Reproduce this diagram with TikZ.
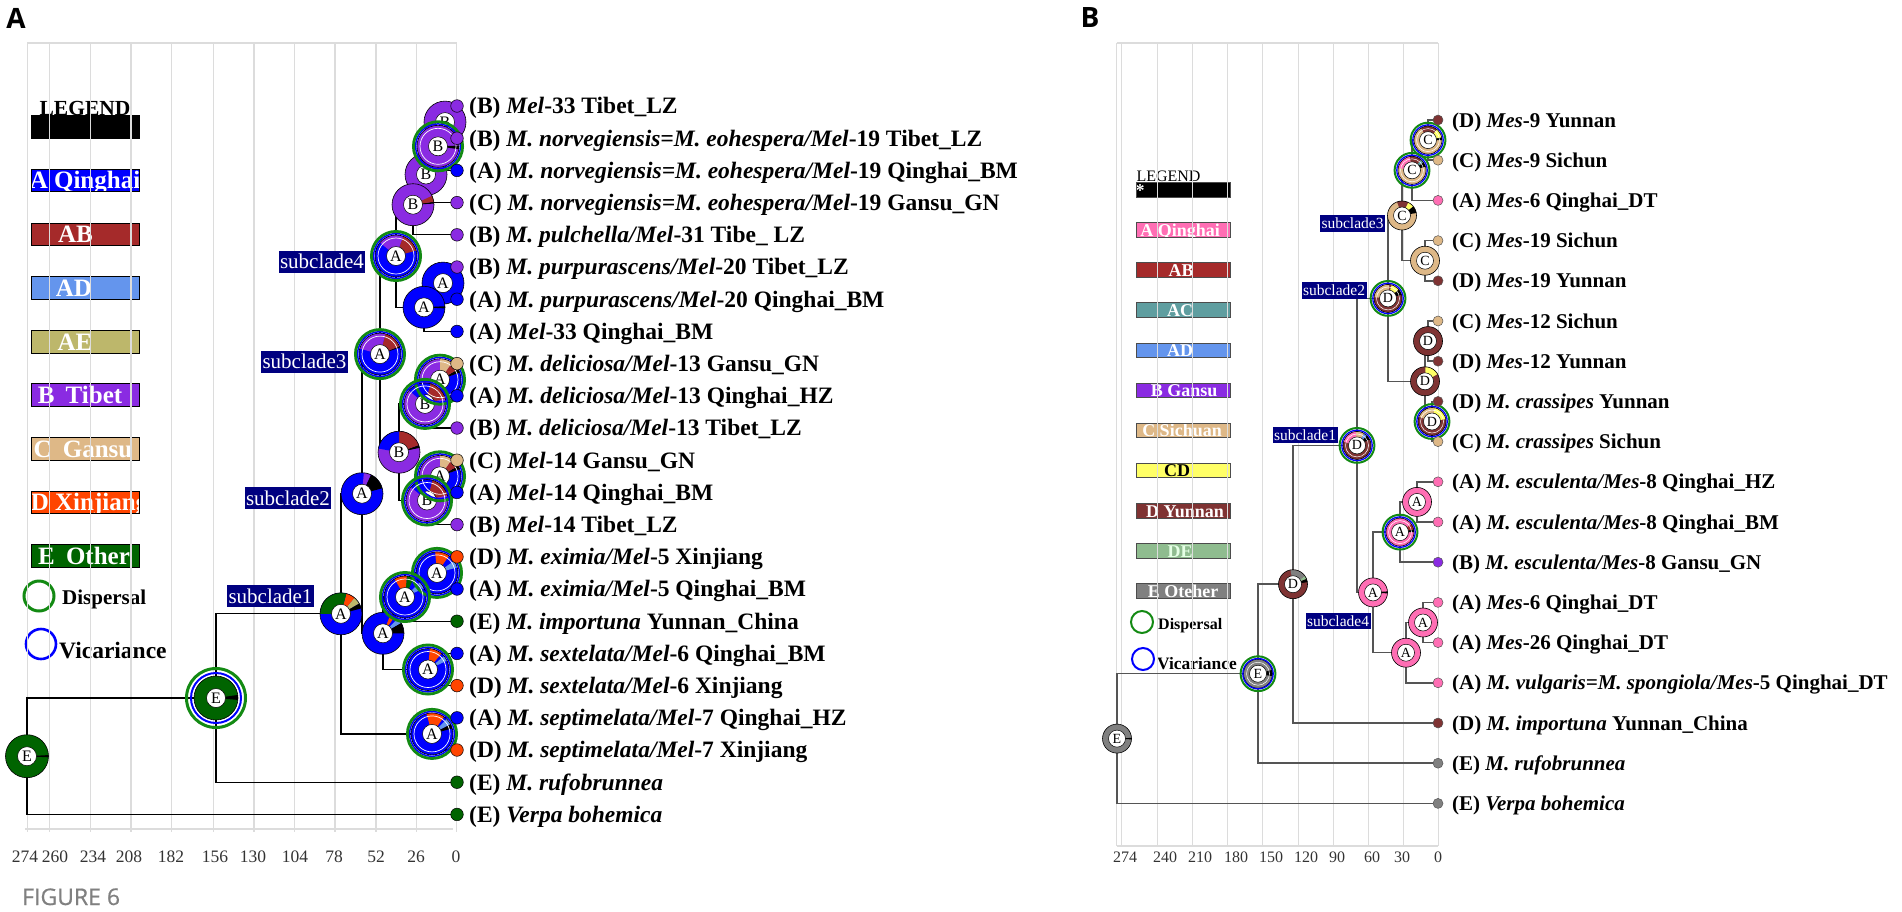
\documentclass[tikz,border=0pt]{standalone}
\usepackage{fontspec}
\setmainfont{Liberation Serif}
\newfontfamily\osans{Open Sans}
\newfontfamily\osansfig[FakeBold=0.6]{Open Sans}
\definecolor{qA}{HTML}{0000FF}
\definecolor{qAB}{HTML}{A52A2A}
\definecolor{qAD}{HTML}{6495ED}
\definecolor{qAE}{HTML}{BDB76B}
\definecolor{qB}{HTML}{8A2BE2}
\definecolor{qC}{HTML}{DEB887}
\definecolor{qD}{HTML}{FF4500}
\definecolor{qE}{HTML}{006400}
\definecolor{pA}{HTML}{FF6EB4}
\definecolor{pAC}{HTML}{5F9EA0}
\definecolor{pCD}{HTML}{FFFF66}
\definecolor{pD}{HTML}{7F3333}
\definecolor{pDE}{HTML}{8FBC8F}
\definecolor{pE}{HTML}{808080}
\definecolor{navyc}{HTML}{000080}
\definecolor{gridc}{HTML}{DCDCDC}
\definecolor{treeg}{HTML}{555555}
\definecolor{ringg}{HTML}{138A13}
\definecolor{tickc}{HTML}{333333}
\definecolor{figc}{HTML}{808080}
\newcommand\fsz[1]{\fontsize{#1}{#1}\selectfont}
\tikzset{
  treeA/.style={line width=1.3, draw=black},
  treeB/.style={line width=1.5, draw=treeg},
  gridl/.style={line width=1.1, draw=gridc},
  rgA/.style={draw=ringg, line width=2.8},
  rbA/.style={draw=blue, line width=1.5},
  rgB/.style={draw=ringg, line width=2},
  rbB/.style={draw=blue, line width=1.3},
  tipA/.style={anchor=base west, inner sep=0, xshift=12, yshift=-7.8, font=\fsz{23.5}\bfseries},
  tipB/.style={anchor=base west, inner sep=0, xshift=14, yshift=-7, font=\fsz{21}\bfseries},
  letA/.style={circle, fill=white, draw=black, line width=0.5, minimum size=19, inner sep=0, font=\fsz{16}},
  letB/.style={circle, fill=white, draw=black, line width=0.5, minimum size=17, inner sep=0, font=\fsz{14}},
  subA/.style={fill=navyc, text=white, inner xsep=1.5, inner ysep=0, minimum height=22, font=\fsz{21}},
  subB/.style={fill=navyc, text=white, inner xsep=1.5, inner ysep=0, minimum height=16.5, font=\fsz{15.5}},
  legboxA/.style={draw=black, line width=0.8, minimum width=108, minimum height=22.5, inner sep=0},
  legboxB/.style={draw=black!70, line width=0.8, minimum width=94, minimum height=14.5, inner sep=0},
  legtxtA/.style={anchor=base, inner sep=0, text=white, font=\fsz{25}\bfseries, yshift=-8.3},
  legtxtB/.style={anchor=base, inner sep=0, text=white, font=\fsz{18}\bfseries, yshift=-6},
  tickA/.style={font=\fsz{17.5}, text=tickc, inner sep=0},
  tickB/.style={font=\fsz{16}, text=tickc, inner sep=0},
}
% donut: name, R, segments (color/from/to), letter style, letter
\newcommand\donut[5]{%
  \foreach \c/\a/\b in {#3}{\fill[\c] (#1) -- ++(-\a:#2) arc[start angle=-\a,end angle=-\b,radius=#2] -- cycle;}
  \draw[line width=0.6] (#1) circle[radius=#2];
  \node[#4] (#1-l) at (#1) {#5};}
\newcommand\ringA[1]{\draw[white,line width=0.7] (#1) circle[radius=18];
  \draw[rbA] (#1) circle[radius=22.4]; \draw[rgA] (#1) circle[radius=24.6];}
\newcommand\ringB[1]{\draw[white,line width=0.5] (#1) circle[radius=11.5];
  \draw[rbB] (#1) circle[radius=15.2]; \draw[rgB] (#1) circle[radius=17.4];}
\newcommand\legA[5]{\node[legboxA, fill=#3, path picture={\node[legtxtA, xshift=#4] at (path picture bounding box.center) {#5};}] (#1) at (85,#2) {};}
\newcommand\legB[6]{\node[legboxB, fill=#3, path picture={\node[legtxtB, xshift=#4, text=#6] at (path picture bounding box.center) {#5};}] (#1) at (1183,#2) {};}
\begin{document}
\begin{tikzpicture}[x=1pt,y=-1pt]
\useasboundingbox (0,0) rectangle (1902,911);
\fill[white] (0,0) rectangle (1902,911);

% ---------- panel labels ----------
\node[font=\osans\bfseries\fsz{28}, inner sep=0] (labA) at (16,18) {A};
\node[font=\osans\bfseries\fsz{28}, inner sep=0] (labB) at (1090,18) {B};
\node[font=\osansfig\fsz{23}, text=figc, anchor=base west, inner sep=0] (fig) at (22,905) {FIGURE 6};

% ---------- legend A ----------
\node[font=\fsz{21.5}\bfseries, anchor=base, inner sep=0] (a-legt) at (85,115.5) {LEGEND};
\node[legboxA, fill=black] (a-leg0) at (85,127) {};
\legA{a-legA}{180.5}{qA}{0}{A Qinghai}
\legA{a-legAB}{234.5}{qAB}{-9.5}{AB}
\legA{a-legAD}{288}{qAD}{-11}{AD}
\legA{a-legAE}{342}{qAE}{-10}{AE}
\legA{a-legB}{395}{qB}{-5}{B\hspace{0.45em}Tibet}
\legA{a-legC}{449}{qC}{-2}{C\hspace{0.45em}Gansu}
\legA{a-legD}{502.5}{qD}{4.5}{D Xinjiang}
\legA{a-legE}{556}{qE}{-1}{E\hspace{0.45em}Other}
\node[circle, draw=ringg, line width=3, minimum size=30, inner sep=0] (a-disp) at (39,596) {};
\node[font=\fsz{21}\bfseries, anchor=base west, inner sep=0] (a-dispt) at (62,604) {Dispersal};
\node[circle, draw=blue, line width=2.6, minimum size=30, inner sep=0] (a-vic) at (41,644) {};
\node[font=\fsz{23.5}\bfseries, anchor=base west, inner sep=0] (a-vict) at (59,658) {Vicariance};

% ---------- legend B ----------
\node[font=\fsz{16}, anchor=base, inner sep=0] (b-legt) at (1168.5,181.5) {LEGEND};
\legB{b-leg0}{190}{black}{-43}{*}{white}
\legB{b-legA}{230}{pA}{-3}{A Qinghai}{white}
\legB{b-legAB}{270}{qAB}{-2}{AB}{white}
\legB{b-legAC}{310}{pAC}{-3}{AC}{white}
\legB{b-legAD}{350.5}{qAD}{-3}{AD}{white}
\legB{b-legB}{390.5}{qB}{1}{B Gansu}{white}
\legB{b-legC}{430.5}{qC}{-1}{C Sichuan}{white}
\legB{b-legCD}{470.5}{pCD}{-6}{CD}{black}
\legB{b-legD}{511}{pD}{2}{D Yunnan}{white}
\legB{b-legDE}{551}{pDE}{-3}{DE}{white!90!green}
\legB{b-legE}{591}{pE}{0}{E Oteher}{white}
\node[circle, draw=ringg, line width=2, minimum size=22, inner sep=0] (b-disp) at (1142,622) {};
\node[font=\fsz{16}\bfseries, anchor=base west, inner sep=0] (b-dispt) at (1158,629) {Dispersal};
\node[circle, draw=blue, line width=2, minimum size=22, inner sep=0] (b-vic) at (1143,659) {};
\node[font=\fsz{17.4}\bfseries, anchor=base west, inner sep=0] (b-vict) at (1157,669) {Vicariance};

% ---------- grids ----------
\foreach \x in {27.3,49.3,90.7,131,171.7,213.3,254,294.3,335,376,416.7,456.7}{\draw[gridl] (\x,43) -- (\x,832);}
\draw[gridl] (27.3,43) -- (456.7,43);
\draw[gridl] (25,829) -- (453,829);
\foreach \x in {1116.7,1121.7,1157.3,1192.7,1227.7,1262.7,1298.3,1333.3,1368.3,1403.3,1438.3}{\draw[gridl] (\x,43) -- (\x,846);}
\draw[gridl] (1116.7,43) -- (1438.3,43);
\draw[gridl] (1116.7,846) -- (1438.3,846);
\foreach \x/\t in {25/274,55/260,93/234,129/208,171/182,215/156,253/130,295/104,334/78,376/52,416/26,456/0}{\node[tickA] (a-tk\t) at (\x,857) {\t};}
\foreach \x/\t in {1125/274,1165/240,1200/210,1236/180,1271/150,1306/120,1337/90,1372/60,1402/30,1438/0}{\node[tickB] (b-tk\t) at (\x,857) {\t};}

% ---------- panel A tree ----------
\foreach \i in {0,...,22}{\pgfmathsetmacro\yy{106+32.2*\i}\coordinate (a-t\i) at (457,\yy);}
\coordinate (a-nB1) at (445,122.1);
\coordinate (a-nB2) at (438,146.3);
\coordinate (a-nB3) at (426,174.5);
\coordinate (a-nB4) at (413,204.7);
\coordinate (a-nPurp1) at (443,283.1);
\coordinate (a-nPurp2) at (424,307.3);
\coordinate (a-s4) at (396,256);
\coordinate (a-nDelA) at (440,379.7);
\coordinate (a-nDelB) at (425,403.9);
\coordinate (a-nMelA) at (440,476.3);
\coordinate (a-nMelB) at (427,500.5);
\coordinate (a-nBm) at (399,452.2);
\coordinate (a-s3) at (380,354.1);
\coordinate (a-nEx2) at (437,572.9);
\coordinate (a-nEx) at (405,597);
\coordinate (a-nSex) at (428,669.5);
\coordinate (a-nLow) at (383,633.3);
\coordinate (a-s2) at (362,493.7);
\coordinate (a-nSept) at (432,733.9);
\coordinate (a-s1) at (341,613.8);
\coordinate (a-nE2) at (216,698);
\coordinate (a-rootA) at (27,756.2);
\foreach \p/\c in {rootA/nE2,rootA/t22,nE2/s1,nE2/t21,s1/s2,s1/nSept,nSept/t19,nSept/t20,s2/s3,s2/nLow,nLow/nEx,nLow/nSex,nEx/nEx2,nEx/t16,nEx2/t14,nEx2/t15,nSex/t17,nSex/t18,s3/s4,s3/nBm,nBm/nDelB,nBm/nMelB,nDelB/nDelA,nDelB/t10,nDelA/t8,nDelA/t9,nMelB/nMelA,nMelB/t13,nMelA/t11,nMelA/t12,s4/nB4,s4/nPurp2,nB4/nB3,nB4/t4,nB3/nB2,nB3/t3,nB2/nB1,nB2/t2,nB1/t0,nB1/t1,nPurp2/nPurp1,nPurp2/t7,nPurp1/t5,nPurp1/t6}{\draw[treeA] (a-\p) |- (a-\c);}

% pies A
\donut{a-rootA}{21.5}{qE/0/360,black/357/363}{letA}{E}
\donut{a-nE2}{22}{qE/0/360,black/355/368}{letA}{E}
\donut{a-s1}{21}{qA/0/360,black/15/30,qAE/30/50,qD/50/75,qE/75/180}{letA}{A}
\donut{a-s2}{21}{qA/0/360,black/15/65,qB/65/85}{letA}{A}
\donut{a-nLow}{21}{qA/0/360,black/0/30,qAD/30/45,qD/55/68}{letA}{A}
\donut{a-nSept}{21}{qA/0/360,black/15/28,qAD/28/45,qD/55/105}{letA}{A}
\donut{a-nSex}{21}{qA/0/360,qAD/25/40,qD/50/85}{letA}{A}
\donut{a-nEx2}{21}{qA/0/360,qAD/15/35,qD/55/95}{letA}{A}
\donut{a-nEx}{21}{qA/0/360,qAD/25/45,qE/65/85,qD/85/120}{letA}{A}
\donut{a-s3}{21}{qA/0/360,black/18/22,qAB/22/75,qB/75/165}{letA}{A}
\donut{a-s4}{21}{qA/0/360,qAB/15/70,qB/70/140}{letA}{A}
\donut{a-nBm}{21}{qB/0/360,black/12/20,qAB/20/90,qA/90/170}{letA}{B}
\donut{a-nPurp1}{21}{qA/0/360}{letA}{A}
\donut{a-nPurp2}{21}{qA/0/360,black/357/363}{letA}{A}
\donut{a-nB1}{21}{qB/0/360}{letA}{B}
\donut{a-nB3}{21}{qB/0/360}{letA}{B}
\donut{a-nB2}{21}{qB/0/360,black/352/362}{letA}{B}
\donut{a-nB4}{21}{qB/0/360,black/3/8,qAB/8/25}{letA}{B}
\donut{a-nDelA}{21}{qB/0/360,qA/260/380,black/20/30,qAB/30/55,qC/55/90}{letA}{A}
\donut{a-nDelB}{21}{qB/0/360,qAB/15/75,qA/75/140}{letA}{B}
\donut{a-nMelA}{21}{qB/0/360,qA/260/380,black/20/30,qAB/30/55,qC/55/90}{letA}{A}
\donut{a-nMelB}{21}{qB/0/360,qAB/15/75,qA/75/140}{letA}{B}
% rings A
\draw[draw=blue, line width=2] (a-nE2) circle[radius=25];
\draw[draw=ringg, line width=3] (a-nE2) circle[radius=29.5];
\foreach \n in {s3,s4,nB2,nDelA,nDelB,nMelA,nMelB,nEx2,nEx,nSex,nSept}{\ringA{a-\n}}
% tip dots A
\foreach \i/\col in {0/qB,1/qB,2/qA,3/qB,4/qB,5/qB,6/qA,7/qA,8/qC,9/qA,10/qB,11/qC,12/qA,13/qB,14/qD,15/qA,16/qE,17/qA,18/qD,19/qA,20/qD,21/qE,22/qE}{\filldraw[fill=\col,draw=black,line width=0.5] (a-t\i) circle[radius=6.3];}
% tip labels A
\node[tipA] (a-l0) at (a-t0) {(B) \textit{Mel}-33 Tibet\_LZ};
\node[tipA] (a-l1) at (a-t1) {(B) \textit{M. norvegiensis=M. eohespera/Mel}-19 Tibet\_LZ};
\node[tipA] (a-l2) at (a-t2) {(A) \textit{M. norvegiensis=M. eohespera/Mel}-19 Qinghai\_BM};
\node[tipA] (a-l3) at (a-t3) {(C) \textit{M. norvegiensis=M. eohespera/Mel}-19 Gansu\_GN};
\node[tipA] (a-l4) at (a-t4) {(B) \textit{M. pulchella/Mel}-31 Tibe\_ LZ};
\node[tipA] (a-l5) at (a-t5) {(B) \textit{M. purpurascens/Mel}-20 Tibet\_LZ};
\node[tipA] (a-l6) at (a-t6) {(A) \textit{M. purpurascens/Mel}-20 Qinghai\_BM};
\node[tipA] (a-l7) at (a-t7) {(A) \textit{Mel}-33 Qinghai\_BM};
\node[tipA] (a-l8) at (a-t8) {(C) \textit{M. deliciosa/Mel}-13 Gansu\_GN};
\node[tipA] (a-l9) at (a-t9) {(A) \textit{M. deliciosa/Mel}-13 Qinghai\_HZ};
\node[tipA] (a-l10) at (a-t10) {(B) \textit{M. deliciosa/Mel}-13 Tibet\_LZ};
\node[tipA] (a-l11) at (a-t11) {(C) \textit{Mel}-14 Gansu\_GN};
\node[tipA] (a-l12) at (a-t12) {(A) \textit{Mel}-14 Qinghai\_BM};
\node[tipA] (a-l13) at (a-t13) {(B) \textit{Mel}-14 Tibet\_LZ};
\node[tipA] (a-l14) at (a-t14) {(D) \textit{M. eximia/Mel}-5 Xinjiang};
\node[tipA] (a-l15) at (a-t15) {(A) \textit{M. eximia/Mel}-5 Qinghai\_BM};
\node[tipA] (a-l16) at (a-t16) {(E) \textit{M. importuna} Yunnan\_China};
\node[tipA] (a-l17) at (a-t17) {(A) \textit{M. sextelata/Mel}-6 Qinghai\_BM};
\node[tipA] (a-l18) at (a-t18) {(D) \textit{M. sextelata/Mel}-6 Xinjiang};
\node[tipA] (a-l19) at (a-t19) {(A) \textit{M. septimelata/Mel}-7 Qinghai\_HZ};
\node[tipA] (a-l20) at (a-t20) {(D) \textit{M. septimelata/Mel}-7 Xinjiang};
\node[tipA] (a-l21) at (a-t21) {(E) \textit{M. rufobrunnea}};
\node[tipA] (a-l22) at (a-t22) {(E) \textit{Verpa bohemica}};
% subclade labels A
\node[subA] (a-sc1) at (270.5,596) {subclade1};
\node[subA] (a-sc2) at (288,498) {subclade2};
\node[subA] (a-sc3) at (304.5,361.5) {subclade3};
\node[subA] (a-sc4) at (322,261.5) {subclade4};

% ---------- panel B tree ----------
\foreach \i in {0,...,17}{\pgfmathsetmacro\yy{120+40.2*\i}\coordinate (b-t\i) at (1438,\yy);}
\coordinate (b-root) at (1117,738.6);
\coordinate (b-nE2) at (1258,673.7);
\coordinate (b-nD0) at (1293,584.2);
\coordinate (b-s1) at (1357,445.4);
\coordinate (b-s2) at (1388,298.4);
\coordinate (b-s3) at (1402,215.5);
\coordinate (b-nC2) at (1412,170.3);
\coordinate (b-nC1) at (1428,140.1);
\coordinate (b-nC3) at (1425,260.7);
\coordinate (b-nD2) at (1425,381.3);
\coordinate (b-nD1) at (1428,341.1);
\coordinate (b-nD3) at (1432,421.5);
\coordinate (b-s4) at (1373,592.4);
\coordinate (b-nA2) at (1400,532.1);
\coordinate (b-nA1) at (1417,501.9);
\coordinate (b-nA4) at (1406,652.7);
\coordinate (b-nA3) at (1423,622.5);
\foreach \p/\c in {root/nE2,root/t17,nE2/nD0,nE2/t16,nD0/s1,nD0/t15,s1/s2,s1/s4,s2/s3,s2/nD2,s3/nC2,s3/nC3,nC2/nC1,nC2/t2,nC1/t0,nC1/t1,nC3/t3,nC3/t4,nD2/nD1,nD2/nD3,nD1/t5,nD1/t6,nD3/t7,nD3/t8,s4/nA2,s4/nA4,nA2/nA1,nA2/t11,nA1/t9,nA1/t10,nA4/nA3,nA4/t14,nA3/t12,nA3/t13}{\draw[treeB] (b-\p) |- (b-\c);}
% pies B
\donut{b-root}{14.5}{pE/0/360,black/357/363}{letB}{E}
\donut{b-nE2}{14.5}{pE/0/360,black/350/375}{letB}{E}
\donut{b-nD0}{14.5}{pD/0/360,black/8/22,pDE/22/35,pE/35/100}{letB}{D}
\donut{b-s1}{14}{pD/0/360,black/25/45,qAD/45/60,qC/60/95,pA/95/165}{letB}{D}
\donut{b-s2}{14}{pD/0/360,black/15/40,pCD/40/75,qC/85/175}{letB}{D}
\donut{b-s3}{14.5}{qC/0/360,black/10/40,pCD/40/65,pD/65/110}{letB}{C}
\donut{b-nC3}{14.5}{qC/0/360}{letB}{C}
\donut{b-nC2}{14}{qC/0/360,black/15/35,pAC/35/50,pD/50/100,pA/100/170}{letB}{C}
\donut{b-nC1}{14}{qC/0/360,black/0/12,pCD/12/50,pD/50/120}{letB}{C}
\donut{b-nD2}{14.5}{pD/0/360,pCD/30/88}{letB}{D}
\donut{b-nD1}{14.5}{pD/0/360}{letB}{D}
\donut{b-nD3}{14}{pD/0/360,pCD/10/80,qC/80/160}{letB}{D}
\donut{b-s4}{14.5}{pA/0/360,black/356/364}{letB}{A}
\donut{b-nA1}{14.5}{pA/0/360}{letB}{A}
\donut{b-nA2}{14}{pA/0/360,black/0/12,qAB/12/35}{letB}{A}
\donut{b-nA4}{14.5}{pA/0/360}{letB}{A}
\donut{b-nA3}{14.5}{pA/0/360}{letB}{A}
\foreach \n in {nE2,s1,s2,nC2,nC1,nD3,nA2}{\ringB{b-\n}}
% tip dots B
\foreach \i/\col in {0/pD,1/qC,2/pA,3/qC,4/pD,5/qC,6/pD,7/pD,8/qC,9/pA,10/pA,11/qB,12/pA,13/pA,14/pA,15/pD,16/pE,17/pE}{\filldraw[fill=\col,draw=treeg,line width=0.5] (b-t\i) circle[radius=5];}
% tip labels B
\node[tipB] (b-l0) at (b-t0) {(D) \textit{Mes}-9 Yunnan};
\node[tipB] (b-l1) at (b-t1) {(C) \textit{Mes}-9 Sichun};
\node[tipB] (b-l2) at (b-t2) {(A) \textit{Mes}-6 Qinghai\_DT};
\node[tipB] (b-l3) at (b-t3) {(C) \textit{Mes}-19 Sichun};
\node[tipB] (b-l4) at (b-t4) {(D) \textit{Mes}-19 Yunnan};
\node[tipB] (b-l5) at (b-t5) {(C) \textit{Mes}-12 Sichun};
\node[tipB] (b-l6) at (b-t6) {(D) \textit{Mes}-12 Yunnan};
\node[tipB] (b-l7) at (b-t7) {(D) \textit{M. crassipes} Yunnan};
\node[tipB] (b-l8) at (b-t8) {(C) \textit{M. crassipes} Sichun};
\node[tipB] (b-l9) at (b-t9) {(A) \textit{M. esculenta/Mes}-8 Qinghai\_HZ};
\node[tipB] (b-l10) at (b-t10) {(A) \textit{M. esculenta/Mes}-8 Qinghai\_BM};
\node[tipB] (b-l11) at (b-t11) {(B) \textit{M. esculenta/Mes}-8 Gansu\_GN};
\node[tipB] (b-l12) at (b-t12) {(A) \textit{Mes}-6 Qinghai\_DT};
\node[tipB] (b-l13) at (b-t13) {(A) \textit{Mes}-26 Qinghai\_DT};
\node[tipB] (b-l14) at (b-t14) {(A) \textit{M. vulgaris=M. spongiola/Mes}-5 Qinghai\_DT};
\node[tipB] (b-l15) at (b-t15) {(D) \textit{M. importuna} Yunnan\_China};
\node[tipB] (b-l16) at (b-t16) {(E) \textit{M. rufobrunnea}};
\node[tipB] (b-l17) at (b-t17) {(E) \textit{Verpa bohemica}};
% subclade labels B
\node[subB] (b-sc3) at (1352.5,223.5) {subclade3};
\node[subB] (b-sc2) at (1334,290.5) {subclade2};
\node[subB] (b-sc1) at (1305,435) {subclade1};
\node[subB] (b-sc4) at (1338,621) {subclade4};
\end{tikzpicture}
\end{document}
